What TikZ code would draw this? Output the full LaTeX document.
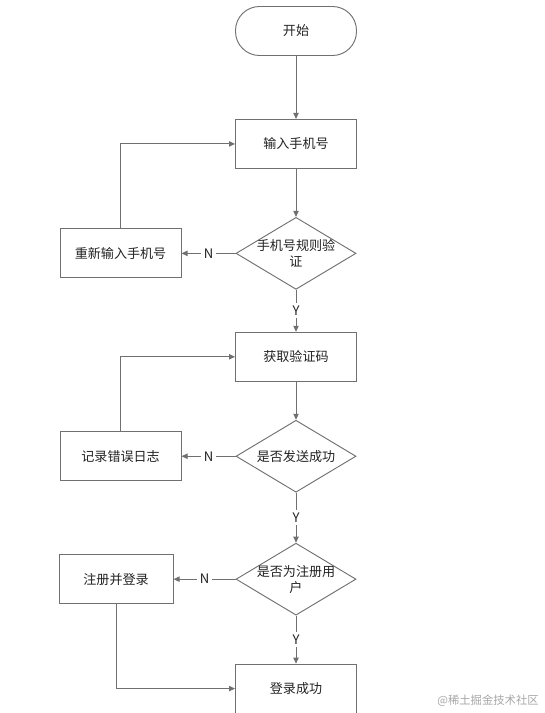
\documentclass[tikz,border=0pt]{standalone}
\usepackage{fontspec}
\newfontfamily\cjk{Noto Sans CJK SC}
\usetikzlibrary{arrows.meta,positioning,shapes.geometric}
\definecolor{linegray}{HTML}{707070}
\definecolor{textgray}{HTML}{222222}

\begin{document}
\begin{tikzpicture}[x=0.75pt, y=-0.75pt, >={Triangle[length=4.5pt,width=4pt]}, line width=0.7pt,
    every node/.style={font=\cjk\fontsize{9.8}{12}\selectfont, text=textgray},
    proc/.style={draw=linegray, minimum width=90.75pt, minimum height=36.75pt, inner sep=2pt},
    term/.style={proc, rounded corners=18pt},
    decision/.style={draw=linegray, diamond, aspect=1.667, minimum width=90pt, minimum height=54pt, inner sep=-6pt, align=center},
    flow/.style={->, draw=linegray},
    yn/.style={fill=white, inner sep=2pt}]
    \useasboundingbox (0,0) rectangle (545,713);
    % main column
    \node[term] (start) at (296,31) {开始};
    \node[proc, below=47.25pt of start] (phone) {输入手机号};
    \node[decision, below=36pt of phone] (rule) {手机号规则验\\证};
    \node[proc, below=31.5pt of rule] (code) {获取验证码};
    \node[decision, below=28.5pt of code] (sent) {是否发送成功};
    \node[decision, below=37.5pt of sent] (user) {是否为注册用\\户};
    \node[proc, below=36pt of user] (done) {登录成功};
    % side boxes
    \node[proc, left=40.5pt of rule] (retry) {重新输入手机号};
    \node[proc, left=40.5pt of sent] (log) {记录错误日志};
    \node[proc, minimum width=85.5pt, left=46.5pt of user] (signup) {注册并登录};
    \node[text=black!35, font=\cjk\fontsize{8.5}{10}\selectfont] (mark) at (488,701) {@稀土掘金技术社区};

    \draw[flow] (start) -- (phone);
    \draw[flow] (phone) -- (rule);
    \draw[flow] (rule) -- node[yn]{Y} (code);
    \draw[flow] (code) -- (sent);
    \draw[flow] (sent) -- node[yn]{Y} (user);
    \draw[flow] (user) -- node[yn]{Y} (done);
    \draw[flow] (rule) -- node[yn]{N} (retry);
    \draw[flow] (sent) -- node[yn]{N} (log);
    \draw[flow] (user) -- node[yn]{N} (signup);
    \draw[flow] (retry.north) |- (phone.west);
    \draw[flow] (log.north) |- (code.west);
    \draw[flow] (signup.south) |- (done.west);
\end{tikzpicture}
\end{document}
